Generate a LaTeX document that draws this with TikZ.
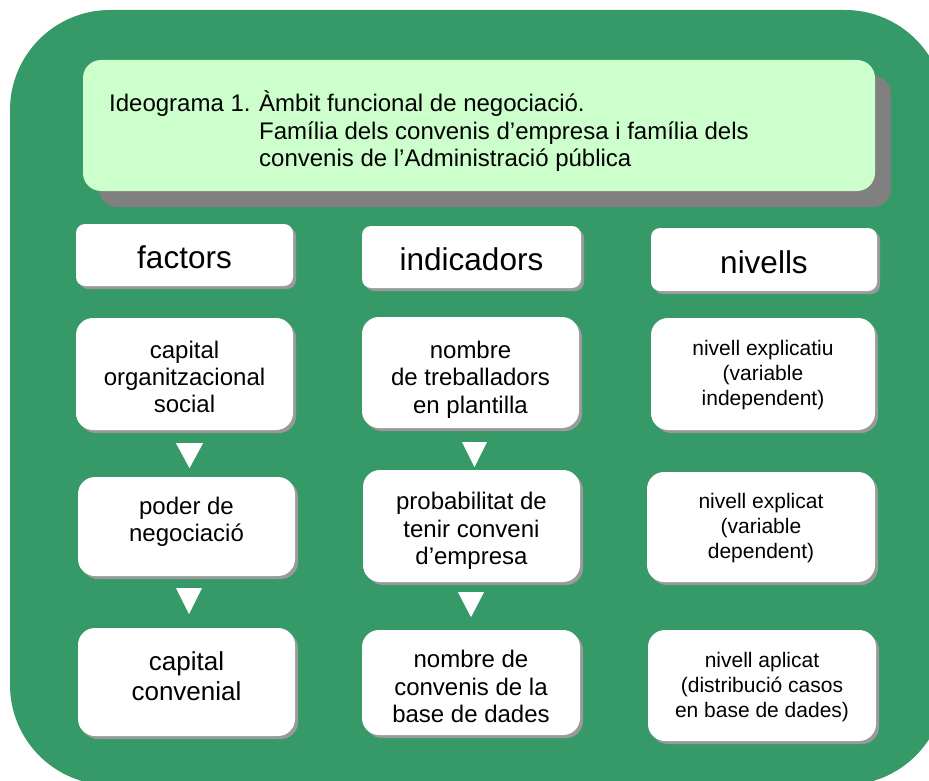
\documentclass[tikz,border=0pt]{standalone}
\usepackage{fontspec}
\setmainfont{Liberation Sans}
\usetikzlibrary{shadows,calc}
\definecolor{bggreen}{HTML}{359968}
\definecolor{titlegreen}{HTML}{CCFFCC}
\definecolor{titlesh}{HTML}{808080}
\definecolor{boxsh}{HTML}{9A9A9A}
\begin{document}
\begin{tikzpicture}[x=1pt,y=-1pt,
  titlebox/.style={fill=titlegreen, rounded corners=18pt, minimum width=792pt, minimum height=131pt, inner sep=0pt,
    drop shadow={shadow xshift=16pt, shadow yshift=-16pt, fill=titlesh, opacity=1}},
  headbox/.style={fill=white, rounded corners=9pt, minimum height=62pt, inner sep=0pt,
    drop shadow={shadow xshift=3pt, shadow yshift=-3pt, fill=boxsh, opacity=1}},
  cbox/.style={fill=white, rounded corners=17pt, inner sep=0pt,
    drop shadow={shadow xshift=3pt, shadow yshift=-3pt, fill=boxsh, opacity=1}},
  lbl/.style={inner sep=0pt, align=center},
  headtxt/.style={lbl, font=\fontsize{31.5}{36}\selectfont},
  bigtxt/.style={lbl, font=\fontsize{24}{27.3}\selectfont},
  hugetxt/.style={lbl, font=\fontsize{26}{29.5}\selectfont},
  smalltxt/.style={lbl, font=\fontsize{21}{25}\selectfont},
  ttl/.style={anchor=base west, inner sep=0pt, font=\fontsize{24}{27.5}\selectfont},
  arrowtri/.style={fill=white}
]
\useasboundingbox (0,0) rectangle (929,781);
\clip (0,0) rectangle (929,781);
\fill[bggreen, rounded corners=100pt] (10,10) rectangle (945,785);

% title
\node[titlebox] (title) at (479,125.5) {};
\node[ttl] (t1) at (109,112) {Ideograma 1.};
\node[ttl] (t2) at (259,112) {Àmbit funcional de negociació.};
\node[ttl] (t3) at (259,140) {Família dels convenis d’empresa i família dels};
\node[ttl] (t4) at (259,167) {convenis de l’Administració pública};

% headers
\node[headbox, minimum width=217pt] (h1) at (184.5,255) {};
\node[headbox, minimum width=219pt] (h2) at (471.5,257) {};
\node[headbox, minimum width=226pt, minimum height=63pt] (h3) at (764,259.5) {};
\node[headtxt] (h1t) at ($(h1.center)+(0,2)$) {factors};
\node[headtxt] (h2t) at ($(h2.center)+(0,2)$) {indicadors};
\node[headtxt] (h3t) at ($(h3.center)+(0,3)$) {nivells};

% column 1
\node[cbox, minimum width=217pt, minimum height=112pt] (a1) at (184.5,374) {};
\node[cbox, minimum width=217pt, minimum height=99pt] (a2) at (186.5,526.5) {};
\node[cbox, minimum width=217pt, minimum height=108pt] (a3) at (186.5,682) {};
\node[bigtxt] (a1t) at ($(a1.center)+(0,3)$) {capital\\organitzacional\\social};
\node[bigtxt] (a2t) at ($(a2.center)+(0,-5)$) {poder de\\negociació};
\node[hugetxt] (a3t) at ($(a3.center)+(0,-6)$) {capital\\convenial};

% column 2
\node[cbox, minimum width=217pt, minimum height=111pt] (b1) at (470.5,372.5) {};
\node[cbox, minimum width=217pt, minimum height=112pt] (b2) at (471.5,526) {};
\node[cbox, minimum width=218pt, minimum height=105pt] (b3) at (471,682.5) {};
\node[bigtxt] (b1t) at ($(b1.center)+(0,7)$) {nombre\\de treballadors\\en plantilla};
\node[bigtxt] (b2t) at ($(b2.center)+(0,5)$) {probabilitat de\\tenir conveni\\d’empresa};
\node[bigtxt] (b3t) at ($(b3.center)+(0,4)$) {nombre de\\convenis de la\\base de dades};

% column 3
\node[cbox, minimum width=224pt, minimum height=112pt] (c1) at (763,374) {};
\node[cbox, minimum width=228pt, minimum height=110pt] (c2) at (761,527) {};
\node[cbox, minimum width=228pt, minimum height=111pt] (c3) at (762,685.5) {};
\node[smalltxt] (c1t) at ($(c1.center)+(0,1)$) {nivell explicatiu\\(variable\\independent)};
\node[smalltxt] (c2t) at ($(c2.center)+(0,1)$) {nivell explicat\\(variable\\dependent)};
\node[smalltxt] (c3t) at ($(c3.center)+(0,2)$) {nivell aplicat\\(distribució casos\\en base de dades)};

% arrow triangles
\fill[arrowtri] ($(a1.south)+(-8.5,13)$) -- ++(27,0) -- ++(-13.5,25) -- cycle;
\fill[arrowtri] ($(a2.south)+(-10.5,12)$) -- ++(26,0) -- ++(-13,26) -- cycle;
\fill[arrowtri] ($(b1.south)+(-8.5,14)$) -- ++(25,0) -- ++(-12.5,25) -- cycle;
\fill[arrowtri] ($(b2.south)+(-13.5,10)$) -- ++(26,0) -- ++(-13,25) -- cycle;
\end{tikzpicture}
\end{document}
